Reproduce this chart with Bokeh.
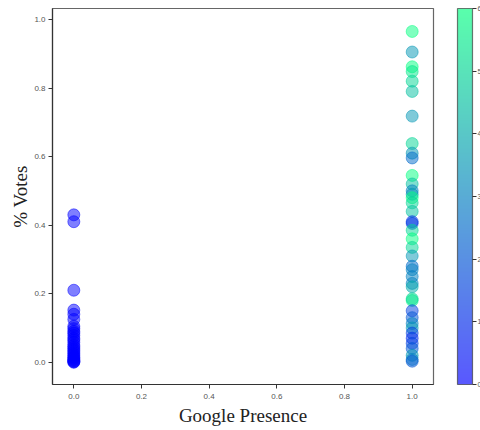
from bokeh.plotting import figure
from bokeh.models import (LinearColorMapper, ColorBar, FixedTicker, Range1d,
                          ColumnDataSource, CustomJSTickFormatter)
from bokeh.embed import file_html
from bokeh.resources import INLINE

# Data
left_votes = [0.43, 0.41, 0.21, 0.152, 0.14, 0.125, 0.105, 0.098, 0.09, 0.085, 0.078,
              0.07, 0.065, 0.058, 0.05, 0.045, 0.04, 0.035, 0.03, 0.025, 0.02, 0.015,
              0.012, 0.008, 0.005, 0.003, 0.001, 0.0]
left_count = [0] * len(left_votes)

right_votes = [0.965, 0.905, 0.862, 0.848, 0.82, 0.79, 0.718, 0.638, 0.61, 0.596, 0.545,
               0.52, 0.50, 0.49, 0.48, 0.465, 0.44, 0.41, 0.405, 0.385, 0.36, 0.335, 0.31,
               0.28, 0.27, 0.25, 0.23, 0.22, 0.185, 0.18, 0.15, 0.13, 0.113, 0.10, 0.085,
               0.07, 0.055, 0.04, 0.02, 0.008, 0.003]
right_count = [6, 3.5, 6, 5.5, 5, 4.5, 3.5, 5, 3.5, 2.5, 6,
               4.5, 3, 3.5, 6, 5, 4.5, 1, 1.5, 5, 6, 5, 3.5,
               2.5, 3, 3, 3, 4, 5, 5.5, 1.5, 2, 3, 3.5, 1.5,
               1, 1.5, 2, 3.5, 3, 2]

google_presence = [0.0] * len(left_votes) + [1.0] * len(right_votes)
votes = left_votes + right_votes
counts = left_count + right_count

x_ticks = [0.0, 0.2, 0.4, 0.6, 0.8, 1.0]
y_ticks = [0.0, 0.2, 0.4, 0.6, 0.8, 1.0]
cbar_ticks = [0, 1, 2, 3, 4, 5, 6]

# matplotlib "winter" colormap
def _hex(r, g, b):
    return "#%02x%02x%02x" % (int(round(r * 255)), int(round(g * 255)), int(round(b * 255)))

winter = [_hex(0.0, i / 255, 1.0 - 0.5 * i / 255) for i in range(256)]
mapper = LinearColorMapper(palette=winter, low=0, high=6)

src = ColumnDataSource(dict(x=google_presence, y=votes, c=counts))

p = figure(width=480, height=430, output_backend="svg", toolbar_location=None,
           x_range=Range1d(-0.063, 1.063), y_range=Range1d(-0.065, 1.032),
           frame_width=381, frame_height=376,
           min_border_left=52, min_border_top=8, min_border_bottom=10, min_border_right=47)

p.scatter("x", "y", source=src, size=12,
          fill_color={"field": "c", "transform": mapper}, fill_alpha=0.5,
          line_color={"field": "c", "transform": mapper}, line_alpha=0.5)

p.grid.visible = False
p.background_fill_color = "white"
p.border_fill_color = "white"
p.outline_line_color = "#666666"
p.outline_line_width = 1.2

for ax in (p.xaxis[0], p.yaxis[0]):
    ax.axis_line_color = "#333333"
    ax.axis_line_width = 1.2
    ax.major_tick_line_color = "#333333"
    ax.major_tick_out = 4
    ax.major_tick_in = 0
    ax.minor_tick_line_color = None
    ax.major_label_text_font = "Liberation Sans"
    ax.major_label_text_font_size = "8px"
    ax.major_label_text_color = "#555555"
    ax.axis_label_text_font = "Liberation Serif"
    ax.axis_label_text_font_style = "normal"
    ax.axis_label_text_font_size = "19px"
    ax.axis_label_text_color = "#222222"

p.xaxis.ticker = FixedTicker(ticks=x_ticks)
p.yaxis.ticker = FixedTicker(ticks=y_ticks)
fmt = CustomJSTickFormatter(code="return tick.toFixed(1);")
p.xaxis.formatter = fmt
p.yaxis.formatter = fmt
p.xaxis.axis_label = "Google Presence"
p.yaxis.axis_label = "% Votes"
p.xaxis.major_label_standoff = 5
p.yaxis.major_label_standoff = 3
p.xaxis.axis_label_standoff = 3
p.yaxis.axis_label_standoff = 0

cbar = ColorBar(color_mapper=mapper, ticker=FixedTicker(ticks=cbar_ticks),
                location=(405, 0), width=15, height=376, padding=0, margin=0,
                scale_alpha=0.65,
                bar_line_color="#333333", bar_line_width=1.2,
                major_tick_line_color="#333333", major_tick_out=4, major_tick_in=0,
                minor_tick_line_color=None,
                major_label_text_font="Liberation Sans",
                major_label_text_font_size="7px",
                major_label_text_color="#555555",
                label_standoff=1,
                background_fill_color=None, border_line_color=None)
p.add_layout(cbar, "center")

open("out.html", "w").write(file_html(p, INLINE))
